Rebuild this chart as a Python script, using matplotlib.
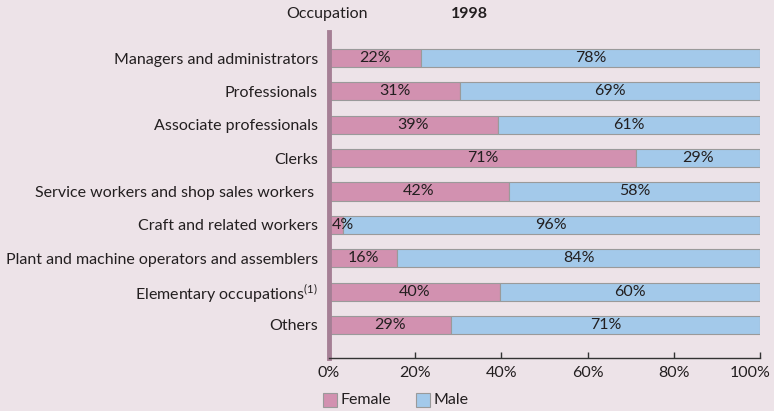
import matplotlib.pyplot as plt
from matplotlib.patches import Rectangle
from matplotlib.transforms import ScaledTranslation

occupations = ["Managers and administrators", "Professionals", "Associate professionals",
               "Clerks", "Service workers and shop sales workers ", "Craft and related workers",
               "Plant and machine operators and assemblers", "Elementary occupations$^{(1)}$",
               "Others"]
female = [21.4, 30.5, 39.2, 71.2, 41.8, 3.2, 15.8, 39.7, 28.3]
female_labels = ["22%", "31%", "39%", "71%", "42%", "4%", "16%", "40%", "29%"]
male_labels = ["78%", "69%", "61%", "29%", "58%", "96%", "84%", "60%", "71%"]
ticks = [0, 20, 40, 60, 80, 100]

bg = "#EDE3E8"
fcol = "#D291B0"
mcol = "#A3C9EA"
edge = "#9A9A9A"
txt = "#231F20"
fs = 11.5

plt.rcParams['font.family'] = ['Lato', 'DejaVu Sans']
plt.rcParams['mathtext.fontset'] = 'custom'
plt.rcParams['mathtext.rm'] = 'Lato'

fig = plt.figure(figsize=(7.74, 4.11), dpi=100, facecolor=bg)
ax = fig.add_axes([329 / 774, 1 - 358 / 411, 431 / 774, 326 / 411])
ax.set_facecolor(bg)

n = len(occupations)
y = list(range(n))
male = [100 - f for f in female]
ax.barh(y, female, height=0.54, color=fcol, edgecolor=edge, linewidth=0.8)
ax.barh(y, male, left=female, height=0.54, color=mcol, edgecolor=edge, linewidth=0.8)

for i in range(n):
    if female[i] < 6:
        ax.text(female[i] * 0.2, i, female_labels[i], ha="left", va="center",
                fontsize=fs, color=txt)
    else:
        ax.text(female[i] / 2, i, female_labels[i], ha="center", va="center",
                fontsize=fs, color=txt)
    ax.text(female[i] + male[i] / 2, i, male_labels[i], ha="center", va="center",
            fontsize=fs, color=txt)

ax.set_ylim(n - 1 + 0.99, -0.78)
ax.set_xlim(0, 100)
ax.set_yticks(y)
ax.set_yticklabels(occupations, fontsize=fs, color=txt)
ax.tick_params(axis="y", length=0, pad=8)
ax.set_xticks(ticks)
ax.set_xticklabels([f"{t}%" for t in ticks], fontsize=fs, color=txt)
ax.tick_params(axis="x", direction="in", length=4, color="#333333", width=1, pad=6)
last = ax.get_xticklabels()[-1]
last.set_horizontalalignment("right")
last.set_transform(last.get_transform() + ScaledTranslation(0.11, 0, fig.dpi_scale_trans))

for s in ["top", "right"]:
    ax.spines[s].set_visible(False)
ax.spines["left"].set_color("#A57F95")
ax.spines["left"].set_linewidth(3.5)
ax.spines["bottom"].set_color("#333333")
ax.spines["bottom"].set_linewidth(1)

fig.text(327 / 774, 1 - 14 / 411, "Occupation", ha="center", va="center",
         fontsize=fs, color=txt)
fig.text(469 / 774, 1 - 14 / 411, "1998", ha="center", va="center",
         fontsize=fs, fontweight="bold", color=txt)

# legend
for x0, col, lab in [(323, fcol, "Female"), (416, mcol, "Male")]:
    fig.patches.append(Rectangle((x0 / 774, 1 - 407 / 411), 14 / 774, 14 / 411,
                                 transform=fig.transFigure, facecolor=col,
                                 edgecolor=edge, linewidth=0.8))
    fig.text((x0 + 18) / 774, 1 - 400 / 411, lab, ha="left", va="center",
             fontsize=fs, color=txt)

fig.savefig("out.png", dpi=100, facecolor=bg)
